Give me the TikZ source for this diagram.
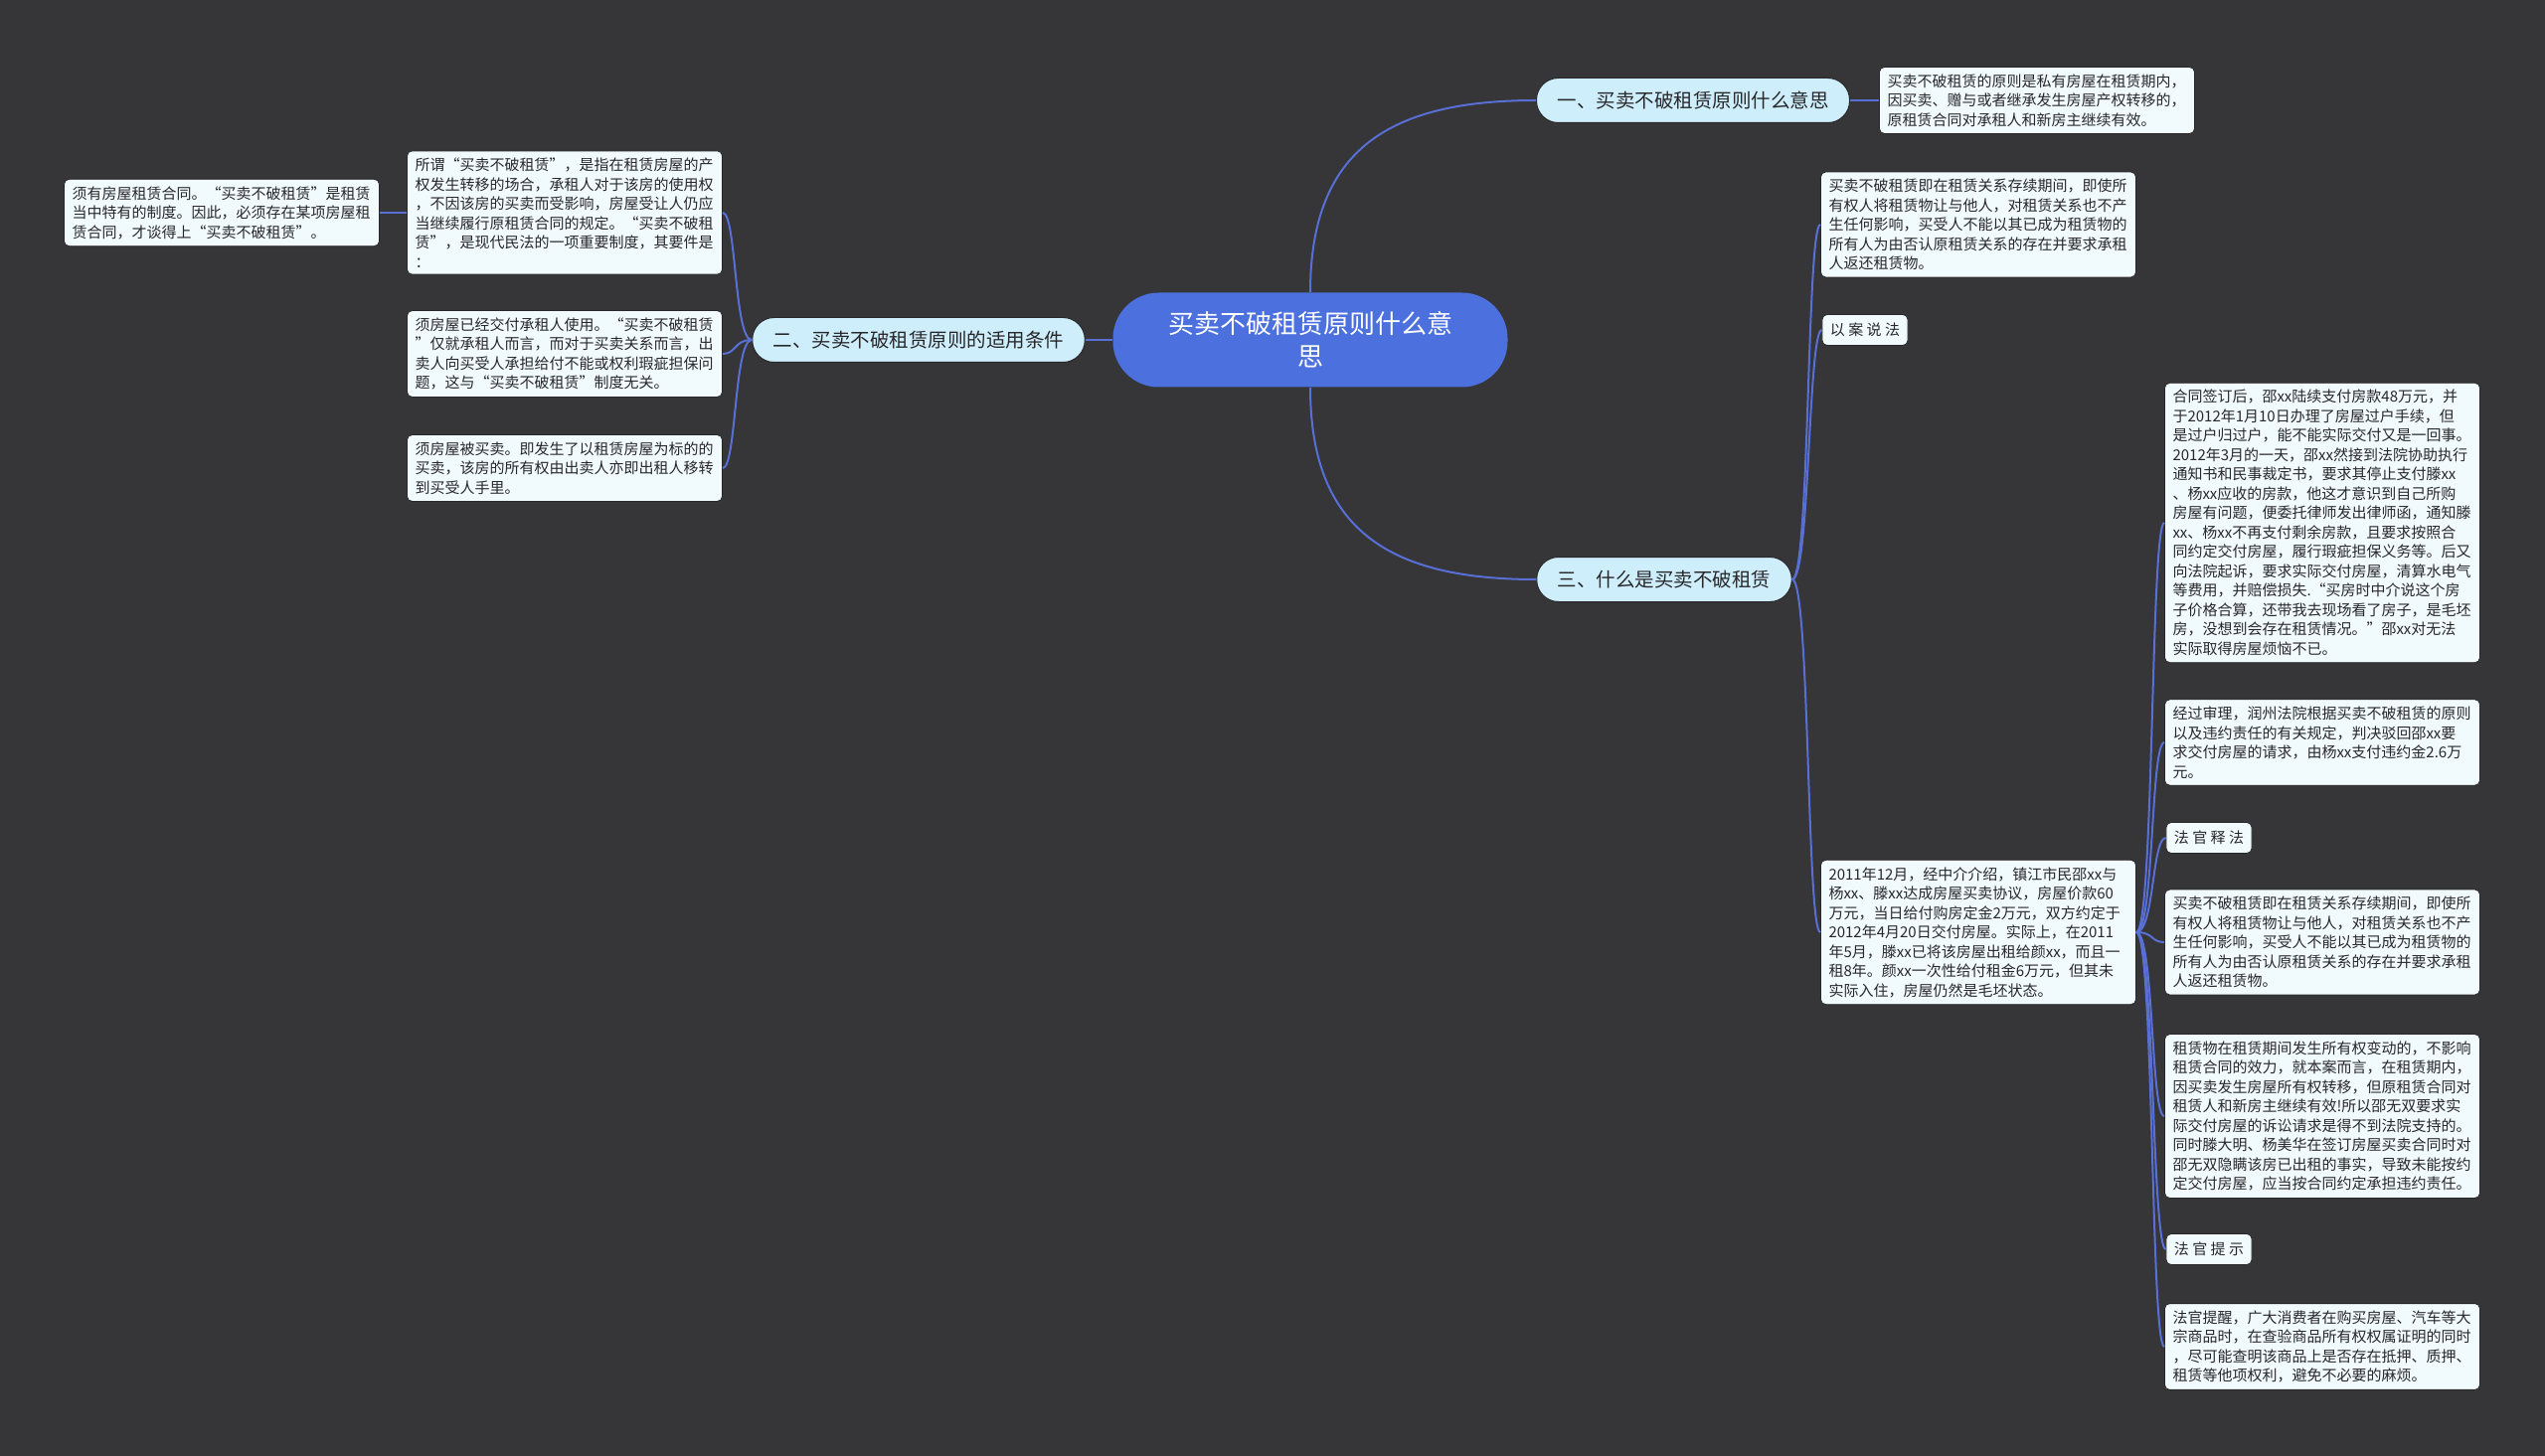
\documentclass[tikz,border=0pt]{standalone}
\usepackage{fontspec}
\setmainfont{Noto Sans CJK SC}
\usetikzlibrary{arrows.meta}

\definecolor{bgcol}{RGB}{54,53,55}
\definecolor{rootcol}{RGB}{76,112,222}
\definecolor{linkcol}{RGB}{88,112,214}
\definecolor{subcol}{RGB}{207,238,252}
\definecolor{leafcol}{RGB}{241,250,253}
\definecolor{inkcol}{RGB}{40,40,42}

\begin{document}
\begin{tikzpicture}[x=0.5pt,y=-0.5pt,
  rootbox/.style={fill=rootcol,text=white,rounded corners=23pt,minimum width=198.5pt,
    minimum height=47.5pt,align=center,inner sep=0pt,font=\fontsize{13pt}{16.5pt}\selectfont},
  subbox/.style={fill=subcol,draw=inkcol,line width=.5pt,text=inkcol,rounded corners=11pt,
    minimum height=22.5pt,inner xsep=10.5pt,font=\fontsize{9.75pt}{12pt}\selectfont},
  card/.style={fill=leafcol,draw=inkcol,line width=.4pt,text=inkcol,rounded corners=2.5pt,
    inner xsep=4pt,inner ysep=3.5pt,font=\fontsize{7.5pt}{9.75pt}\selectfont},
  leaf/.style={card,text width=150.5pt,align=left},
  tag/.style={card,minimum height=15.5pt},
  link/.style={linkcol,line width=1pt}]
  \fill[bgcol] (0,0) rectangle (2560,1465);
  \useasboundingbox (0,0) rectangle (2560,1465);

  % centre and main branches
  \node[rootbox] (root) at (1318,342) {买卖不破租赁原则什么意\\思};
  \node[subbox] (b1) at (1703,101) {一、买卖不破租赁原则什么意思};
  \node[subbox] (b2) at (924,342) {二、买卖不破租赁原则的适用条件};
  \node[subbox] (b3) at (1674,583) {三、什么是买卖不破租赁};

  % branch one
  \node[leaf] (a1) at (2049,101) {买卖不破租赁的原则是私有房屋在租赁期内，\\
    因买卖、赠与或者继承发生房屋产权转移的，\\原租赁合同对承租人和新房主继续有效。};

  % branch two
  \node[leaf] (l1) at (568,214) {所谓“买卖不破租赁”，是指在租赁房屋的产\\
    权发生转移的场合，承租人对于该房的使用权\\，不因该房的买卖而受影响，房屋受让人仍应\\
    当继续履行原租赁合同的规定。“买卖不破租\\赁”，是现代民法的一项重要制度，其要件是\\：};
  \node[leaf] (l1a) at (223,214) {须有房屋租赁合同。“买卖不破租赁”是租赁\\
    当中特有的制度。因此，必须存在某项房屋租\\赁合同，才谈得上“买卖不破租赁”。};
  \node[leaf] (l2) at (568,356) {须房屋已经交付承租人使用。“买卖不破租赁\\
    ”仅就承租人而言，而对于买卖关系而言，出\\卖人向买受人承担给付不能或权利瑕疵担保问\\
    题，这与“买卖不破租赁”制度无关。};
  \node[leaf] (l3) at (568,471) {须房屋被买卖。即发生了以租赁房屋为标的的\\
    买卖，该房的所有权由出卖人亦即出租人移转\\到买受人手里。};

  % branch three
  \node[leaf] (c1) at (1990,226) {买卖不破租赁即在租赁关系存续期间，即使所\\
    有权人将租赁物让与他人，对租赁关系也不产\\生任何影响，买受人不能以其已成为租赁物的\\
    所有人为由否认原租赁关系的存在并要求承租\\人返还租赁物。};
  \node[tag] (c2) at (1876,332) {以 案 说 法};
  \node[leaf] (c3) at (1990,938) {2011年12月，经中介介绍，镇江市民邵xx与\\
    杨xx、滕xx达成房屋买卖协议，房屋价款60\\万元，当日给付购房定金2万元，双方约定于\\
    2012年4月20日交付房屋。实际上，在2011\\年5月，滕xx已将该房屋出租给颜xx，而且一\\
    租8年。颜xx一次性给付租金6万元，但其未\\实际入住，房屋仍然是毛坯状态。};

  \node[leaf] (r1) at (2336,526) {合同签订后，邵xx陆续支付房款48万元，并\\
    于2012年1月10日办理了房屋过户手续，但\\是过户归过户，能不能实际交付又是一回事。\\
    2012年3月的一天，邵xx然接到法院协助执行\\通知书和民事裁定书，要求其停止支付滕xx\\
    、杨xx应收的房款，他这才意识到自己所购\\房屋有问题，便委托律师发出律师函，通知滕\\
    xx、杨xx不再支付剩余房款，且要求按照合\\同约定交付房屋，履行瑕疵担保义务等。后又\\
    向法院起诉，要求实际交付房屋，清算水电气\\等费用，并赔偿损失.“买房时中介说这个房\\
    子价格合算，还带我去现场看了房子，是毛坯\\房，没想到会存在租赁情况。”邵xx对无法\\
    实际取得房屋烦恼不已。};
  \node[leaf] (r2) at (2336,747) {经过审理，润州法院根据买卖不破租赁的原则\\
    以及违约责任的有关规定，判决驳回邵xx要\\求交付房屋的请求，由杨xx支付违约金2.6万\\元。};
  \node[tag] (r3) at (2222,843) {法 官 释 法};
  \node[leaf] (r4) at (2336,948) {买卖不破租赁即在租赁关系存续期间，即使所\\
    有权人将租赁物让与他人，对租赁关系也不产\\生任何影响，买受人不能以其已成为租赁物的\\
    所有人为由否认原租赁关系的存在并要求承租\\人返还租赁物。};
  \node[leaf] (r5) at (2336,1123) {租赁物在租赁期间发生所有权变动的，不影响\\
    租赁合同的效力，就本案而言，在租赁期内，\\因买卖发生房屋所有权转移，但原租赁合同对\\
    租赁人和新房主继续有效!所以邵无双要求实\\际交付房屋的诉讼请求是得不到法院支持的。\\
    同时滕大明、杨美华在签订房屋买卖合同时对\\邵无双隐瞒该房已出租的事实，导致未能按约\\
    定交付房屋，应当按合同约定承担违约责任。};
  \node[tag] (r6) at (2222,1257) {法 官 提 示};
  \node[leaf] (r7) at (2336,1355) {法官提醒，广大消费者在购买房屋、汽车等大\\
    宗商品时，在查验商品所有权权属证明的同时\\，尽可能查明该商品上是否存在抵押、质押、\\
    租赁等他项权利，避免不必要的麻烦。};

  % connectors
  \draw[link] (root.north) .. controls +(0,-145) and +(-146,0) .. (b1.west);
  \draw[link] (root.south) .. controls +(0,145) and +(-146,0) .. (b3.west);
  \draw[link] (root.west) -- (b2.east);
  \draw[link] (b1.east) -- (a1.west);
  \draw[link] (l1.west) -- (l1a.east);
  \foreach \n in {l1,l2,l3}
    \draw[link] (b2.west) .. controls +(-18,0) and +(14,0) .. (\n.east);
  \foreach \n in {c1,c2,c3}
    \draw[link] (b3.east) .. controls +(18,0) and +(-14,0) .. (\n.west);
  \foreach \n in {r1,r2,r3,r4,r5,r6,r7}
    \draw[link] (c3.east) .. controls +(18,0) and +(-14,0) .. (\n.west);
\end{tikzpicture}
\end{document}
